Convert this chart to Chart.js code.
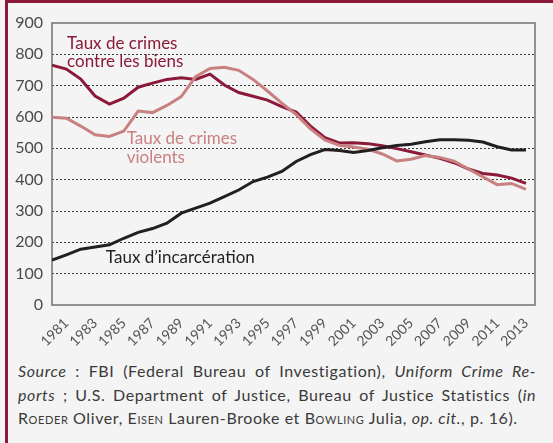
<!DOCTYPE html>
<html>
<head>
<meta charset="utf-8">
<script src="https://cdn.jsdelivr.net/npm/chart.js@4/dist/chart.umd.min.js"></script>
<style>
  html, body { margin: 0; padding: 0; background: #f4f4f4; }
  #wrap { position: relative; width: 553px; height: 443px; overflow: hidden; background: #f4f4f4; }
  #frame-top { position: absolute; left: 5px; top: 0; width: 548px; height: 3px; background: #8b1a3a; }
  #frame-left { position: absolute; left: 5px; top: 0; width: 3px; height: 443px; background: #8b1a3a; }
  #chart-box { position: absolute; left: 0; top: 0; width: 553px; height: 350px; }
  #source { position: absolute; left: 18px; top: 359px; width: 518px; font-family: Lato, sans-serif;
            font-size: 16px; letter-spacing: 0.6px; line-height: 23.5px; color: #3a3a3a; }
  #source div { text-align: justify; text-align-last: justify; white-space: nowrap; }
  #source div.last { text-align-last: left; }
  .sc { font-variant: small-caps; }
</style>
</head>
<body>
<div id="wrap">
  <div id="frame-top"></div>
  <div id="frame-left"></div>
  <div id="chart-box"><canvas id="chart" width="553" height="350"></canvas></div>
  <div id="source">
    <div><i>Source</i> : FBI (Federal Bureau of Investigation), <i>Uniform Crime Re-</i></div>
    <div><i>ports</i> ; U.S. Department of Justice, Bureau of Justice Statistics (<i>in</i></div>
    <div class="last"><span class="sc">Roeder</span> Oliver, <span class="sc">Eisen</span> Lauren-Brooke et <span class="sc">Bowling</span> Julia, <i>op. cit.</i>, p. 16).</div>
  </div>
</div>
<script>
// years 1980 - 2013 (labels shown every other year)
const years = [1980, 1981, 1982, 1983, 1984, 1985, 1986, 1987, 1988, 1989,
               1990, 1991, 1992, 1993, 1994, 1995, 1996, 1997, 1998, 1999,
               2000, 2001, 2002, 2003, 2004, 2005, 2006, 2007, 2008, 2009,
               2010, 2011, 2012, 2013];
const tickYears = [1981, 1983, 1985, 1987, 1989, 1991, 1993, 1995, 1997,
                   1999, 2001, 2003, 2005, 2007, 2009, 2011, 2013];
const yTicks = [0, 100, 200, 300, 400, 500, 600, 700, 800, 900];

const propertyCrime = [765, 753, 721, 667, 641, 660, 695, 708, 720, 725,
                       720, 737, 702, 678, 666, 654, 633, 616, 571, 534,
                       517, 518, 515, 508, 499, 489, 479, 468, 454, 434,
                       420, 415, 405, 388];
const violentCrime = [599, 596, 571, 543, 538, 555, 619, 614, 637, 665,
                      729, 755, 759, 749, 720, 683, 644, 608, 562, 527,
                      510, 504, 497, 482, 460, 465, 477, 471, 459, 434,
                      409, 384, 388, 369];
const incarceration = [143, 160, 178, 185, 192, 213, 232, 244, 261, 293,
                       309, 325, 346, 367, 394, 408, 426, 458, 480, 496,
                       493, 487, 493, 502, 509, 513, 521, 527, 527, 526,
                       520, 505, 495, 495];

const labels = [
    { lines: ['Taux de crimes', 'contre les biens'], x: 1981.05, y: [836, 776], color: '#8b1a3a' },
    { lines: ['Taux de crimes', 'violents'], x: 1985.2, y: [530, 472], color: '#c98080' },
    { lines: ['Taux d\u2019incarc\u00e9ration'], x: 1983.75, y: [150], color: '#231f20' }
];

function toPoints(values) {
    return values.map((v, i) => ({ x: years[i], y: v }));
}

// frame around the plot + line labels
const framePlugin = {
    id: 'frame',
    beforeDatasetsDraw(chart) {
        const a = chart.chartArea;
        const ctx = chart.ctx;
        ctx.save();
        ctx.strokeStyle = '#707070';
        ctx.lineWidth = 1.5;
        ctx.strokeRect(a.left, a.top, a.right - a.left, a.bottom - a.top);
        ctx.restore();
    },
    afterDatasetsDraw(chart) {
        const ctx = chart.ctx;
        const xs = chart.scales.x, ys = chart.scales.y;
        ctx.save();
        ctx.font = '17px Lato, sans-serif';
        ctx.textAlign = 'left';
        ctx.textBaseline = 'middle';
        labels.forEach(l => {
            ctx.fillStyle = l.color;
            l.lines.forEach((t, i) => {
                ctx.fillText(t, xs.getPixelForValue(l.x), ys.getPixelForValue(l.y[i]));
            });
        });
        ctx.restore();
    }
};

const lineStyle = { borderWidth: 3, pointRadius: 0, tension: 0, fill: false };

new Chart(document.getElementById('chart'), {
    type: 'line',
    data: {
        datasets: [
            Object.assign({ label: 'Taux d\u2019incarc\u00e9ration', data: toPoints(incarceration), borderColor: '#231f20' }, lineStyle),
            Object.assign({ label: 'Taux de crimes violents', data: toPoints(violentCrime), borderColor: '#c98080' }, lineStyle),
            Object.assign({ label: 'Taux de crimes contre les biens', data: toPoints(propertyCrime), borderColor: '#8b1a3a' }, lineStyle)
        ]
    },
    options: {
        responsive: false,
        animation: false,
        layout: { padding: { left: 0, right: 18, top: 23, bottom: 0 } },
        plugins: {
            legend: { display: false },
            tooltip: { enabled: false }
        },
        scales: {
            x: {
                type: 'linear',
                min: 1980,
                max: 2013.63,
                afterBuildTicks: function(scale) {
                    scale.ticks = tickYears.map(v => ({ value: v }));
                },
                afterFit: function(scale) {
                    scale.height = 45;
                },
                grid: { display: false },
                border: { display: false },
                ticks: {
                    autoSkip: false,
                    maxRotation: 45,
                    minRotation: 45,
                    padding: 2,
                    color: '#555',
                    font: { family: 'Lato, sans-serif', size: 14 },
                    callback: function(value) { return String(value); }
                }
            },
            y: {
                min: 0,
                max: 900,
                afterBuildTicks: function(scale) {
                    scale.ticks = yTicks.map(v => ({ value: v }));
                },
                afterFit: function(scale) {
                    scale.width = 52;
                },
                grid: {
                    drawTicks: false,
                    lineWidth: 1,
                    color: function(ctx) {
                        const v = ctx.tick ? ctx.tick.value : 0;
                        return (v === 0 || v === 900) ? 'rgba(0,0,0,0)' : '#3a3a3a';
                    }
                },
                border: { display: false, dash: [2, 2] },
                ticks: {
                    padding: 9,
                    color: '#4a4a4a',
                    font: { family: 'Lato, sans-serif', size: 16 }
                }
            }
        }
    },
    plugins: [framePlugin]
});
</script>
</body>
</html>
